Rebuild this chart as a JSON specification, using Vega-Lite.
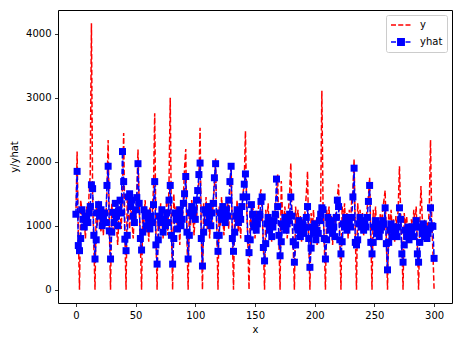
{
  "$schema": "https://vega.github.io/schema/vega-lite/v6.json",
  "width": 394,
  "height": 293,
  "autosize": {"type": "none"},
  "padding": {"left": 58, "top": 10, "right": 5, "bottom": 37},
  "background": "white",
  "config": {
    "font": "DejaVu Sans",
    "view": {"stroke": "#000000", "strokeWidth": 1},
    "axis": {
      "domain": false,
      "grid": false,
      "tickColor": "#000000",
      "tickSize": 3.5,
      "tickWidth": 0.8,
      "labelFont": "DejaVu Sans",
      "labelFontSize": 10,
      "labelColor": "#000000",
      "labelPadding": 3.5,
      "titleFont": "DejaVu Sans",
      "titleFontSize": 10,
      "titleFontWeight": "normal",
      "titleColor": "#000000"
    }
  },
  "data": {
    "values": [
      {"x":0,"y":1150,"yhat":1180},{"x":1,"y":2160,"yhat":1850},{"x":2,"y":900,"yhat":690},{"x":3,"y":0,"yhat":610},
      {"x":4,"y":1400,"yhat":800},{"x":5,"y":1250,"yhat":1250},{"x":6,"y":950,"yhat":1100},{"x":7,"y":1100,"yhat":980},{"x":8,"y":800,"yhat":1150},{"x":9,"y":1300,"yhat":1100},{"x":10,"y":1050,"yhat":1050},{"x":11,"y":1500,"yhat":1200},{"x":12,"y":1800,"yhat":1300},{"x":13,"y":4165,"yhat":1640},{"x":14,"y":1450,"yhat":1580},{"x":15,"y":700,"yhat":850},{"x":16,"y":0,"yhat":480},
      {"x":17,"y":1300,"yhat":780},{"x":18,"y":1000,"yhat":1200},{"x":19,"y":1400,"yhat":1330},{"x":20,"y":1150,"yhat":1150},{"x":21,"y":900,"yhat":1250},{"x":22,"y":1200,"yhat":1000},{"x":23,"y":850,"yhat":1100},{"x":24,"y":1250,"yhat":1200},{"x":25,"y":1050,"yhat":1050},{"x":26,"y":1550,"yhat":1630},{"x":27,"y":2340,"yhat":1930},{"x":28,"y":1000,"yhat":920},{"x":29,"y":0,"yhat":480},
      {"x":30,"y":1350,"yhat":900},{"x":31,"y":1100,"yhat":1210},{"x":32,"y":850,"yhat":1050},{"x":33,"y":1250,"yhat":1350},{"x":34,"y":1000,"yhat":1150},{"x":35,"y":700,"yhat":1000},{"x":36,"y":1150,"yhat":1250},{"x":37,"y":1300,"yhat":1400},{"x":38,"y":950,"yhat":1200},{"x":39,"y":1600,"yhat":2160},{"x":40,"y":2450,"yhat":1690},{"x":41,"y":900,"yhat":790},{"x":42,"y":0,"yhat":610},
      {"x":43,"y":1450,"yhat":850},{"x":44,"y":1200,"yhat":1450},{"x":45,"y":950,"yhat":1500},{"x":46,"y":1350,"yhat":1300},{"x":47,"y":1050,"yhat":1400},{"x":48,"y":800,"yhat":1150},{"x":49,"y":1250,"yhat":1050},{"x":50,"y":1100,"yhat":1250},{"x":51,"y":1500,"yhat":1440},{"x":52,"y":2190,"yhat":1970},{"x":53,"y":1300,"yhat":1350},{"x":54,"y":700,"yhat":800},{"x":55,"y":0,"yhat":620},
      {"x":56,"y":1250,"yhat":900},{"x":57,"y":1050,"yhat":1250},{"x":58,"y":1400,"yhat":1150},{"x":59,"y":900,"yhat":1000},{"x":60,"y":1150,"yhat":1200},{"x":61,"y":750,"yhat":1100},{"x":62,"y":1300,"yhat":950},{"x":63,"y":1000,"yhat":1150},{"x":64,"y":1200,"yhat":1050},{"x":65,"y":1600,"yhat":1330},{"x":66,"y":2760,"yhat":1690},{"x":67,"y":900,"yhat":700},{"x":68,"y":0,"yhat":400},
      {"x":69,"y":1200,"yhat":780},{"x":70,"y":950,"yhat":1150},{"x":71,"y":1350,"yhat":1050},{"x":72,"y":1100,"yhat":1250},{"x":73,"y":800,"yhat":900},{"x":74,"y":1250,"yhat":1100},{"x":75,"y":1000,"yhat":1000},{"x":76,"y":1400,"yhat":1200},{"x":77,"y":850,"yhat":1050},{"x":78,"y":1700,"yhat":1400},{"x":79,"y":3000,"yhat":1630},{"x":80,"y":1000,"yhat":850},{"x":81,"y":0,"yhat":400},
      {"x":82,"y":1500,"yhat":800},{"x":83,"y":1050,"yhat":1200},{"x":84,"y":1300,"yhat":1100},{"x":85,"y":900,"yhat":950},{"x":86,"y":1150,"yhat":1150},{"x":87,"y":700,"yhat":1250},{"x":88,"y":1250,"yhat":1000},{"x":89,"y":1000,"yhat":1100},{"x":90,"y":1450,"yhat":1350},{"x":91,"y":1900,"yhat":1500},{"x":92,"y":2200,"yhat":1770},{"x":93,"y":800,"yhat":900},{"x":94,"y":0,"yhat":480},
      {"x":95,"y":1300,"yhat":850},{"x":96,"y":1000,"yhat":1200},{"x":97,"y":1400,"yhat":1300},{"x":98,"y":1150,"yhat":1150},{"x":99,"y":850,"yhat":1250},{"x":100,"y":1250,"yhat":1100},{"x":101,"y":1050,"yhat":1400},{"x":102,"y":1500,"yhat":1550},{"x":103,"y":1700,"yhat":1800},{"x":104,"y":2530,"yhat":1980},{"x":105,"y":900,"yhat":800},{"x":106,"y":0,"yhat":370},
      {"x":107,"y":1350,"yhat":900},{"x":108,"y":1100,"yhat":1250},{"x":109,"y":1450,"yhat":1200},{"x":110,"y":950,"yhat":1050},{"x":111,"y":1250,"yhat":1300},{"x":112,"y":800,"yhat":1150},{"x":113,"y":1300,"yhat":1000},{"x":114,"y":1050,"yhat":1200},{"x":115,"y":1400,"yhat":1350},{"x":116,"y":1600,"yhat":1750},{"x":117,"y":2050,"yhat":1970},{"x":118,"y":950,"yhat":850},{"x":119,"y":0,"yhat":600},
      {"x":120,"y":1300,"yhat":850},{"x":121,"y":1000,"yhat":1200},{"x":122,"y":1450,"yhat":1100},{"x":123,"y":1150,"yhat":1300},{"x":124,"y":850,"yhat":1150},{"x":125,"y":1250,"yhat":1050},{"x":126,"y":1050,"yhat":1250},{"x":127,"y":1400,"yhat":1150},{"x":128,"y":950,"yhat":1400},{"x":129,"y":1600,"yhat":1690},{"x":130,"y":1950,"yhat":1930},{"x":131,"y":900,"yhat":800},{"x":132,"y":0,"yhat":600},
      {"x":133,"y":1300,"yhat":900},{"x":134,"y":1050,"yhat":1150},{"x":135,"y":1400,"yhat":1250},{"x":136,"y":900,"yhat":1050},{"x":137,"y":1200,"yhat":1200},{"x":138,"y":800,"yhat":1100},{"x":139,"y":1250,"yhat":1300},{"x":140,"y":1500,"yhat":1450},{"x":141,"y":1700,"yhat":1650},{"x":142,"y":2480,"yhat":1810},{"x":143,"y":1300,"yhat":1450},{"x":144,"y":750,"yhat":800},{"x":145,"y":0,"yhat":580},
      {"x":146,"y":1200,"yhat":780},{"x":147,"y":950,"yhat":1330},{"x":148,"y":1350,"yhat":1180},{"x":149,"y":1100,"yhat":980},{"x":150,"y":800,"yhat":1080},{"x":151,"y":1250,"yhat":930},{"x":152,"y":1000,"yhat":1030},{"x":153,"y":1300,"yhat":1130},{"x":154,"y":1450,"yhat":1180},{"x":155,"y":1570,"yhat":1380},{"x":156,"y":1200,"yhat":1450},{"x":157,"y":700,"yhat":660},{"x":158,"y":0,"yhat":450},
      {"x":159,"y":1250,"yhat":720},{"x":160,"y":1000,"yhat":1030},{"x":161,"y":1350,"yhat":1130},{"x":162,"y":850,"yhat":930},{"x":163,"y":1150,"yhat":1030},{"x":164,"y":750,"yhat":830},{"x":165,"y":1200,"yhat":980},{"x":166,"y":950,"yhat":1080},{"x":167,"y":1300,"yhat":1180},{"x":168,"y":1500,"yhat":1730},{"x":169,"y":1800,"yhat":1300},{"x":170,"y":800,"yhat":850},{"x":171,"y":0,"yhat":530},
      {"x":172,"y":1700,"yhat":750},{"x":173,"y":1200,"yhat":1030},{"x":174,"y":950,"yhat":980},{"x":175,"y":1300,"yhat":1130},{"x":176,"y":1050,"yhat":930},{"x":177,"y":800,"yhat":1030},{"x":178,"y":1250,"yhat":1080},{"x":179,"y":1500,"yhat":1180},{"x":180,"y":1980,"yhat":1450},{"x":181,"y":1100,"yhat":1150},{"x":182,"y":650,"yhat":750},{"x":183,"y":0,"yhat":430},
      {"x":184,"y":1300,"yhat":700},{"x":185,"y":1000,"yhat":980},{"x":186,"y":1250,"yhat":930},{"x":187,"y":850,"yhat":1080},{"x":188,"y":1150,"yhat":830},{"x":189,"y":750,"yhat":930},{"x":190,"y":1100,"yhat":1030},{"x":191,"y":950,"yhat":880},{"x":192,"y":1250,"yhat":980},{"x":193,"y":1500,"yhat":1130},{"x":194,"y":1850,"yhat":1300},{"x":195,"y":800,"yhat":800},{"x":196,"y":0,"yhat":350},
      {"x":197,"y":1200,"yhat":650},{"x":198,"y":950,"yhat":980},{"x":199,"y":1250,"yhat":880},{"x":200,"y":850,"yhat":1030},{"x":201,"y":1100,"yhat":780},{"x":202,"y":700,"yhat":930},{"x":203,"y":1150,"yhat":880},{"x":204,"y":1000,"yhat":1080},{"x":205,"y":1400,"yhat":1180},{"x":206,"y":3110,"yhat":1280},{"x":207,"y":1300,"yhat":1250},{"x":208,"y":750,"yhat":800},{"x":209,"y":0,"yhat":480},
      {"x":210,"y":1250,"yhat":780},{"x":211,"y":1000,"yhat":1130},{"x":212,"y":1300,"yhat":1030},{"x":213,"y":850,"yhat":930},{"x":214,"y":1150,"yhat":1080},{"x":215,"y":700,"yhat":880},{"x":216,"y":1100,"yhat":980},{"x":217,"y":950,"yhat":830},{"x":218,"y":1300,"yhat":1130},{"x":219,"y":1450,"yhat":1400},{"x":220,"y":1650,"yhat":1300},{"x":221,"y":800,"yhat":780},{"x":222,"y":0,"yhat":560},
      {"x":223,"y":1300,"yhat":750},{"x":224,"y":1050,"yhat":1030},{"x":225,"y":1350,"yhat":980},{"x":226,"y":900,"yhat":1130},{"x":227,"y":1200,"yhat":930},{"x":228,"y":800,"yhat":1030},{"x":229,"y":1250,"yhat":1080},{"x":230,"y":1000,"yhat":980},{"x":231,"y":1400,"yhat":1130},{"x":232,"y":1550,"yhat":1450},{"x":233,"y":2040,"yhat":1900},{"x":234,"y":900,"yhat":740},{"x":235,"y":0,"yhat":700},
      {"x":236,"y":1350,"yhat":780},{"x":237,"y":1100,"yhat":1030},{"x":238,"y":1250,"yhat":1130},{"x":239,"y":900,"yhat":980},{"x":240,"y":1200,"yhat":1080},{"x":241,"y":850,"yhat":930},{"x":242,"y":1150,"yhat":1030},{"x":243,"y":1000,"yhat":980},{"x":244,"y":1300,"yhat":1130},{"x":245,"y":1450,"yhat":1380},{"x":246,"y":1750,"yhat":1630},{"x":247,"y":850,"yhat":740},{"x":248,"y":0,"yhat":560},
      {"x":249,"y":1250,"yhat":740},{"x":250,"y":1000,"yhat":980},{"x":251,"y":1300,"yhat":1080},{"x":252,"y":850,"yhat":880},{"x":253,"y":1100,"yhat":1030},{"x":254,"y":800,"yhat":830},{"x":255,"y":1200,"yhat":930},{"x":256,"y":950,"yhat":980},{"x":257,"y":1250,"yhat":1080},{"x":258,"y":1400,"yhat":1030},{"x":259,"y":1550,"yhat":1280},{"x":260,"y":800,"yhat":720},{"x":261,"y":0,"yhat":310},
      {"x":262,"y":1200,"yhat":740},{"x":263,"y":950,"yhat":930},{"x":264,"y":1250,"yhat":1030},{"x":265,"y":850,"yhat":830},{"x":266,"y":1100,"yhat":980},{"x":267,"y":750,"yhat":880},{"x":268,"y":1150,"yhat":930},{"x":269,"y":950,"yhat":830},{"x":270,"y":1300,"yhat":980},{"x":271,"y":1930,"yhat":1280},{"x":272,"y":1200,"yhat":1100},{"x":273,"y":700,"yhat":560},{"x":274,"y":0,"yhat":430},
      {"x":275,"y":1200,"yhat":700},{"x":276,"y":950,"yhat":930},{"x":277,"y":1150,"yhat":830},{"x":278,"y":850,"yhat":980},{"x":279,"y":1050,"yhat":780},{"x":280,"y":750,"yhat":930},{"x":281,"y":1100,"yhat":880},{"x":282,"y":900,"yhat":980},{"x":283,"y":1250,"yhat":830},{"x":284,"y":1000,"yhat":980},{"x":285,"y":1300,"yhat":1080},{"x":286,"y":700,"yhat":560},{"x":287,"y":0,"yhat":430},
      {"x":288,"y":1000,"yhat":740},{"x":289,"y":1620,"yhat":980},{"x":290,"y":1150,"yhat":880},{"x":291,"y":850,"yhat":1030},{"x":292,"y":1100,"yhat":830},{"x":293,"y":800,"yhat":930},{"x":294,"y":1050,"yhat":800},{"x":295,"y":900,"yhat":880},{"x":296,"y":1300,"yhat":950},{"x":297,"y":2340,"yhat":1280},{"x":298,"y":1100,"yhat":1000},{"x":299,"y":600,"yhat":990},{"x":300,"y":0,"yhat":490}
    ]
  },
  "transform": [{"fold": ["y", "yhat"], "as": ["key", "value"]}],
  "encoding": {
    "x": {
      "field": "x",
      "type": "quantitative",
      "title": "x",
      "scale": {"domain": [-15, 315], "nice": false, "zero": false},
      "axis": {"values": [0, 50, 100, 150, 200, 250, 300], "format": "d", "labelAngle": 0, "titlePadding": 4}
    },
    "y": {
      "field": "value",
      "type": "quantitative",
      "title": "y/yhat",
      "scale": {"domain": [-208, 4373], "nice": false, "zero": false},
      "axis": {"values": [0, 1000, 2000, 3000, 4000], "format": "d", "titlePadding": 6}
    }
  },
  "layer": [
    {
      "mark": {"type": "line", "strokeWidth": 1.5, "strokeDash": [5.55, 2.4], "clip": true},
      "encoding": {
        "color": {
          "field": "key",
          "type": "nominal",
          "scale": {"domain": ["y", "yhat"], "range": ["#ff0000", "#0000ff"]},
          "legend": {
            "title": null,
            "orient": "top-right",
            "offset": 5,
            "padding": 4,
            "rowPadding": 5,
            "labelOffset": 8,
            "labelFontSize": 10,
            "labelFont": "DejaVu Sans",
            "labelColor": "#000000",
            "symbolSize": 400,
            "clipHeight": 12,
            "strokeColor": "#cccccc",
            "fillColor": "rgba(255,255,255,0.8)",
            "cornerRadius": 2,
            "encode": {
              "symbols": {
                "update": {
                  "shape": {"signal": "datum.value === 'yhat' ? 'M-1,0H-0.5M-0.28,0H0.23M0.45,0H0.95M-0.32,-0.32H0.32V0.32H-0.32Z' : 'M-1,0H-0.5M-0.28,0H0.23M0.45,0H0.95'"},
                  "fill": {"signal": "datum.value === 'yhat' ? '#0000ff' : 'transparent'"},
                  "stroke": {"signal": "datum.value === 'yhat' ? '#0000ff' : '#ff0000'"},
                  "strokeWidth": {"value": 1.5},
                  "strokeDash": {"value": []},
                  "opacity": {"value": 1}
                }
              }
            }
          }
        }
      }
    },
    {
      "transform": [{"filter": "datum.key === 'yhat'"}],
      "mark": {"type": "point", "shape": "square", "filled": true, "size": 49, "color": "#0000ff", "opacity": 1, "clip": true}
    }
  ]
}
